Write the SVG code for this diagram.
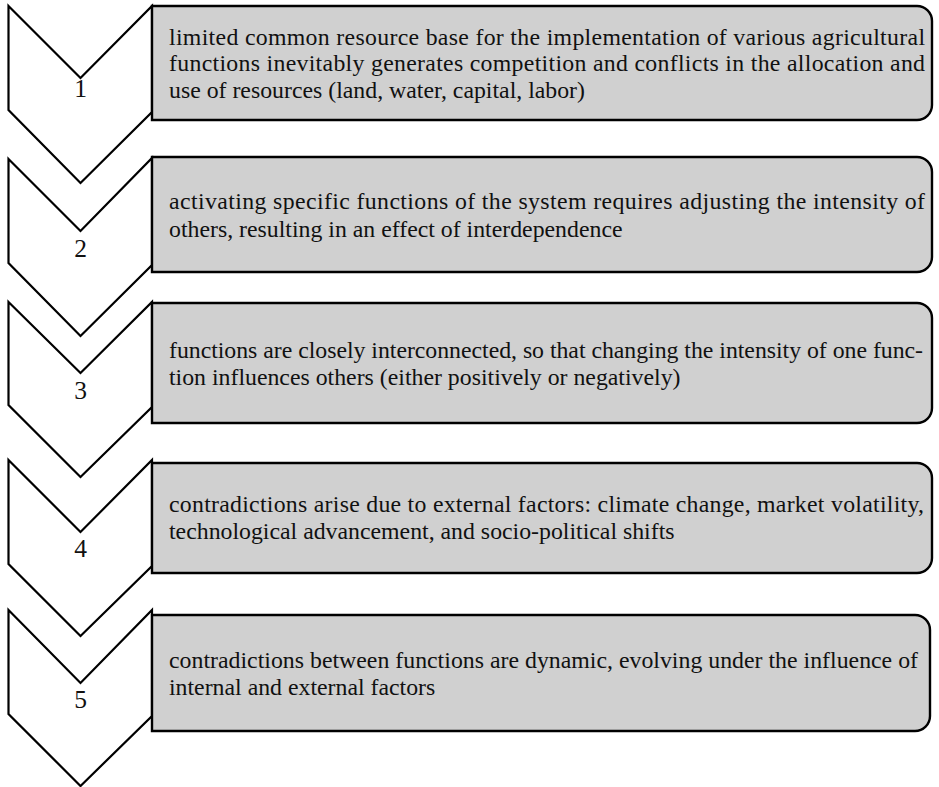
<svg xmlns="http://www.w3.org/2000/svg" width="939" height="787" viewBox="0 0 939 787">
  <style>
    .chev { fill: #ffffff; stroke: #000000; stroke-width: 2.2; stroke-linejoin: miter; }
    .box { fill: #d0d0d0; stroke: #000000; stroke-width: 2.4; }
    .num { font-family: "Liberation Serif", "Times New Roman", serif; font-size: 25.5px; fill: #111111; text-anchor: middle; }
    .txt { font-family: "Liberation Serif", "Times New Roman", serif; font-size: 23.8px; fill: #111111; }
  </style>
  <rect width="939" height="787" fill="#ffffff"/>

  <!-- step 1 -->
  <g id="step-1">
    <path class="chev" d="M8.5,6 L80.5,78 L152,6 L152,112 L80.5,183 L8.5,110 Z"/>
    <text class="num" x="80.5" y="97">1</text>
    <path class="box" d="M152,6 H917 A15,15 0 0 1 932,21 V105 A15,15 0 0 1 917,120 H152 Z"/>
    <text class="txt" x="169" y="44.5" textLength="756" lengthAdjust="spacing">limited common resource base for the implementation of various agricultural</text>
    <text class="txt" x="169" y="71" textLength="756" lengthAdjust="spacing">functions inevitably generates competition and conflicts in the allocation and</text>
    <text class="txt" x="169" y="97.5">use of resources (land, water, capital, labor)</text>
  </g>

  <!-- step 2 -->
  <g id="step-2">
    <path class="chev" d="M8.5,159 L80.5,231 L152,158 L152,265 L80.5,336 L8.5,263 Z"/>
    <text class="num" x="80.5" y="257">2</text>
    <path class="box" d="M152,157 H917 A15,15 0 0 1 932,172 V257 A15,15 0 0 1 917,272 H152 Z"/>
    <text class="txt" x="169" y="209" textLength="756" lengthAdjust="spacing">activating specific functions of the system requires adjusting the intensity of</text>
    <text class="txt" x="169" y="236.5">others, resulting in an effect of interdependence</text>
  </g>

  <!-- step 3 -->
  <g id="step-3">
    <path class="chev" d="M8.5,302 L80.5,373 L152,302 L152,407 L80.5,477 L8.5,405 Z"/>
    <text class="num" x="80.5" y="399">3</text>
    <path class="box" d="M152,303 H917 A15,15 0 0 1 932,318 V408 A15,15 0 0 1 917,423 H152 Z"/>
    <text class="txt" x="169" y="358" textLength="754" lengthAdjust="spacing">functions are closely interconnected, so that changing the intensity of one func-</text>
    <text class="txt" x="169" y="385">tion influences others (either positively or negatively)</text>
  </g>

  <!-- step 4 -->
  <g id="step-4">
    <path class="chev" d="M8.5,460 L80.5,532 L152,460 L152,566 L80.5,636 L8.5,564 Z"/>
    <text class="num" x="80.5" y="557">4</text>
    <path class="box" d="M152,463 H917 A15,15 0 0 1 932,478 V558 A15,15 0 0 1 917,573 H152 Z"/>
    <text class="txt" x="169" y="512" textLength="755" lengthAdjust="spacing">contradictions arise due to external factors: climate change, market volatility,</text>
    <text class="txt" x="169" y="539">technological advancement, and socio-political shifts</text>
  </g>

  <!-- step 5 -->
  <g id="step-5">
    <path class="chev" d="M8.5,610 L80.5,683 L152,610 L152,716 L80.5,786 L8.5,714 Z"/>
    <text class="num" x="80.5" y="708">5</text>
    <path class="box" d="M152,615 H915 A15,15 0 0 1 930,630 V716 A15,15 0 0 1 915,731 H152 Z"/>
    <text class="txt" x="169" y="668" textLength="749" lengthAdjust="spacing">contradictions between functions are dynamic, evolving under the influence of</text>
    <text class="txt" x="169" y="695">internal and external factors</text>
  </g>
</svg>
